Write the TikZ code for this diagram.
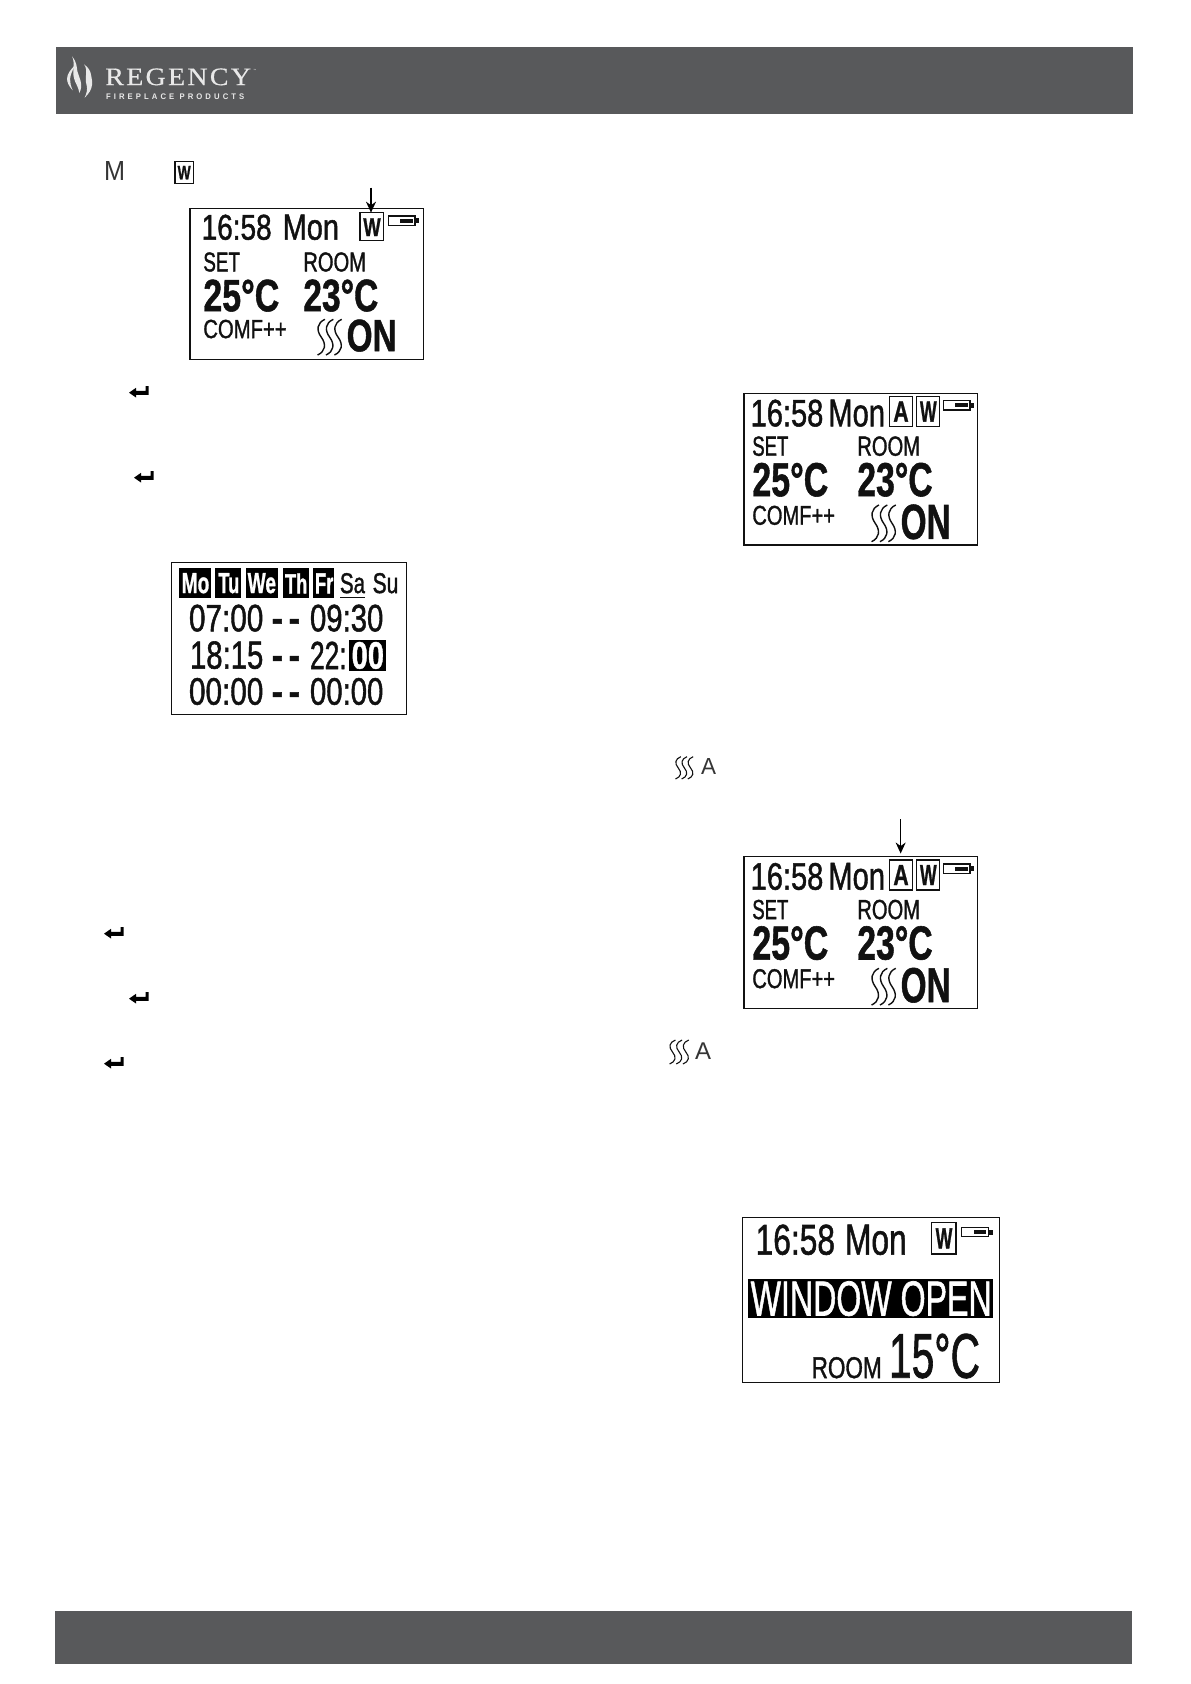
\documentclass[tikz,border=0pt]{standalone}
\usepackage{fontspec}
\usepackage{graphicx}
\usetikzlibrary{arrows.meta}
\setmainfont{Liberation Sans}
\newfontfamily\logoserif[LetterSpace=8,FakeBold=0.4]{Liberation Serif}
\newfontfamily\logosans[LetterSpace=40]{Liberation Sans}
\newfontfamily\lcdr[FakeBold=1.4,BoldFeatures={FakeBold=1.2}]{Liberation Sans}
\definecolor{band}{HTML}{58595B}
\definecolor{logolight}{HTML}{E8E8E8}
\definecolor{ink}{HTML}{111111}
\tikzset{
  txt/.style={anchor=south west,inner sep=0pt,outer sep=0pt,text=ink,font=\lcdr},
  plain/.style={font=\rmfamily,text=ink!85},
  frm/.style={draw=ink,line width=1.6pt,inner sep=0pt,outer sep=0pt,fill=white},
  blk/.style={fill=black,inner sep=0pt,outer sep=0pt},
  ptr/.style={-{Stealth[length=11pt,width=10pt]},line width=1.3pt,draw=black},
}
\newcounter{tn}
% text fitted into a box given in zoom coordinates
\newcommand{\lt}[6]{\stepcounter{tn}\pgfmathsetmacro{\ww}{(#3-#1)/3}\pgfmathsetmacro{\hh}{(#4-#2)/3}%
  \node[txt,#5] (t\arabic{tn}) at (#1,#4) {\resizebox{\ww pt}{\hh pt}{#6}};}
\newcommand{\frm}[6]{\pgfmathsetmacro{\ww}{(#4-#2)/3}\pgfmathsetmacro{\hh}{(#5-#3)/3}%
  \pgfmathsetmacro{\cx}{(#2+#4)/2}\pgfmathsetmacro{\cy}{(#3+#5)/2}%
  \node[frm,#6,minimum width=\ww pt,minimum height=\hh pt] (#1) at (\cx,\cy) {};}
% heat waves
\newcommand{\wv}[5]{\pgfmathsetmacro{\uu}{(#3-#1)/3/2.6}\pgfmathsetmacro{\vv}{(#4-#2)/3}%
  \begin{scope}[shift={(#1,#2)},x=\uu pt,y=-\vv pt]
  \foreach \o in {0,0.8,1.6}{
    \draw[line width=#5pt,draw=ink,shift={(\o,0)}] (0.85,0) .. controls (0.1,0.1) and (0,0.3) .. (0.5,0.5) .. controls (1,0.7) and (0.9,0.9) .. (0.15,1);
  }
  \end{scope}}
% battery (31 x 10 px at x,y in zoom coordinates)
\newcommand{\batt}[2]{\begin{scope}[shift={(#1,#2)}]
  \draw[line width=1.2pt,draw=ink] (0,0) rectangle (80,28);
  \fill[ink] (80,7) rectangle (93,22);
  \fill[ink] (36,8) rectangle (73,20);
  \end{scope}}
% enter key arrow
\newcommand{\enterk}[2]{\begin{scope}[shift={(#1pt,-#2pt)},x=1pt,y=-1pt]
  \fill[black] (16.5,0) -- (19.5,0) -- (19.5,8.8) -- (7,8.8) -- (7,11.5) -- (0,6.7) -- (7,1.8) -- (7,4.8) -- (16.5,4.8) -- cycle;
  \end{scope}}
\newcommand{\mainlcdA}{% no auto-mode icon
  \lt{485}{555}{695}{630}{}{16:58}
  \lt{728}{555}{897}{630}{}{Mon}
  \lt{970}{565}{1022}{618}{}{\bfseries W}
  \batt{1045}{558}
  \lt{490}{668}{600}{725}{}{SET}
  \lt{790}{668}{978}{725}{}{ROOM}
  \lt{490}{750}{718}{845}{}{\bfseries 25°C}
  \lt{790}{750}{1015}{845}{}{\bfseries 23°C}
  \lt{490}{870}{740}{925}{}{COMF++}
  \wv{828}{868}{910}{975}{1.4}
  \lt{920}{870}{1070}{965}{}{\bfseries ON}
}
\newcommand{\mainlcdB}[2]{% both icons; #1,#2 = zoom origin of frame
  \begin{scope}[shift={(#1-252,#2-40)}]
  \lt{272}{60}{490}{140}{}{16:58}
  \lt{505}{60}{675}{140}{}{Mon}
  \lt{700}{65}{746}{125}{}{\bfseries A}
  \lt{780}{65}{830}{125}{}{\bfseries W}
  \batt{850}{62}
  \lt{277}{170}{385}{228}{}{SET}
  \lt{592}{170}{780}{228}{}{ROOM}
  \lt{277}{250}{505}{350}{}{\bfseries 25°C}
  \lt{592}{250}{818}{350}{}{\bfseries 23°C}
  \lt{277}{378}{525}{435}{}{COMF++}
  \wv{630}{375}{712}{485}{1.4}
  \lt{722}{375}{872}{478}{}{\bfseries ON}
  \end{scope}
}
\begin{document}
\begin{tikzpicture}[x=1pt,y=-1pt]
\useasboundingbox (0,0) rectangle (1191,1684);
\fill[white] (0,0) rectangle (1191,1684);
% bands
\fill[band] (56,47) rectangle (1133,114);
\fill[band] (55,1611) rectangle (1132,1664);
% logo
\begin{scope}[shift={(56pt,-47pt)},x=.33333pt,y=-.33333pt]
  \fill[logolight] (60,52) .. controls (24,85) and (28,105) .. (50,130) .. controls (40,105) and (36,90) .. (60,52) -- cycle;
  \fill[logolight] (48,28) .. controls (60,50) and (44,75) .. (58,105) .. controls (64,118) and (68,125) .. (70,138) .. controls (84,112) and (68,90) .. (64,72) .. controls (62,58) and (62,45) .. (48,28) -- cycle;
  \fill[logolight] (84,52) .. controls (98,70) and (84,90) .. (92,115) .. controls (95,128) and (92,138) .. (86,152) .. controls (116,125) and (108,100) .. (106,88) .. controls (104,72) and (98,62) .. (84,52) -- cycle;
  \lt{148}{65}{585}{115}{text=logolight}{\logoserif REGENCY}
  \lt{150}{140}{565}{157}{text=logolight}{\logosans\bfseries FIREPLACE PRODUCTS}
  \node[inner sep=0pt,text=logolight,font=\rmfamily\fontsize{3}{3}\selectfont] (tm) at (597,71) {™};
\end{scope}
% top left text fragments and LCD 1
\begin{scope}[shift={(40pt,-30pt)},x=.33333pt,y=-.33333pt]
  \lt{192}{395}{255}{452}{plain}{M}
  \frm{wicon}{405}{395}{460}{460}{line width=1.2pt}
  \lt{413}{408}{452}{448}{}{\bfseries W}
  \frm{lcda}{450}{535}{1150}{988}{}
  \frm{wa}{960}{548}{1030}{632}{line width=1.1pt}
  \mainlcdA
  \coordinate (arra) at (993,473);
  \draw[ptr] (arra) -- (arra |- wa.north);
\end{scope}
\enterk{129}{386}
\enterk{134}{471}
\enterk{104}{927}
\enterk{129}{992}
\enterk{104}{1057}
% schedule LCD
\begin{scope}[shift={(90pt,-370pt)},x=.33333pt,y=-.33333pt]
  \frm{lcdt}{245}{577}{950}{1033}{}
  \node[blk,minimum width=31.7pt,minimum height=30pt] (bmo) at (314.5,640) {};
  \node[blk,minimum width=26pt,minimum height=30pt] (btu) at (414,640) {};
  \node[blk,minimum width=32pt,minimum height=30pt] (bwe) at (515,640) {};
  \node[blk,minimum width=26.7pt,minimum height=30pt] (bth) at (618,640) {};
  \node[blk,minimum width=21pt,minimum height=30pt] (bfr) at (701.5,640) {};
  \lt{275}{610}{358}{670}{text=white}{\bfseries Mo}
  \lt{385}{610}{448}{670}{text=white}{\bfseries Tu}
  \lt{473}{610}{558}{670}{text=white}{\bfseries We}
  \lt{585}{610}{652}{670}{text=white}{\bfseries Th}
  \lt{675}{610}{730}{670}{text=white}{\bfseries Fr}
  \lt{750}{610}{825}{670}{}{Sa}
  \draw[line width=1pt,draw=ink] (750,681) -- (825,681);
  \lt{848}{610}{925}{670}{}{Su}
  \lt{297}{705}{520}{785}{}{07:00}
  \lt{545}{705}{630}{785}{}{\bfseries\vphantom{0}-\,-}
  \lt{660}{705}{880}{785}{}{09:30}
  \lt{300}{815}{520}{897}{}{18:15}
  \lt{545}{815}{630}{897}{}{\bfseries\vphantom{0}-\,-}
  \lt{660}{815}{770}{897}{}{22:}
  \node[blk,minimum width=36.7pt,minimum height=31pt] (bsel) at (833,856.5) {};
  \lt{785}{817}{882}{897}{text=white}{\bfseries 00}
  \lt{297}{925}{520}{1005}{}{00:00}
  \lt{545}{925}{630}{1005}{}{\bfseries\vphantom{0}-\,-}
  \lt{660}{925}{880}{1005}{}{00:00}
\end{scope}
% right LCD 2
\begin{scope}[shift={(660pt,-380pt)},x=.33333pt,y=-.33333pt]
  \frm{lcdb}{252}{40}{952}{495}{}
  \frm{ab}{688}{50}{757}{140}{line width=1.1pt}
  \frm{wb}{770}{50}{838}{140}{line width=1.1pt}
  \mainlcdB{252}{40}
\end{scope}
% wave + A labels and LCD 3
\begin{scope}[shift={(650pt,-740pt)},x=.33333pt,y=-.33333pt]
  \wv{73}{50}{133}{117}{1.1}
  \lt{153}{55}{198}{103}{plain}{A}
  \frm{lcdc}{282}{350}{982}{805}{}
  \frm{ac}{718}{360}{787}{450}{line width=1.1pt}
  \frm{wc}{800}{360}{868}{450}{line width=1.1pt}
  \mainlcdB{282}{350}
  \coordinate (arrc) at (752,238);
  \draw[ptr] (arrc) -- ([yshift=6.5pt]arrc |- ac.north);
  \wv{55}{900}{120}{972}{1.1}
  \lt{135}{908}{183}{958}{plain}{A}
\end{scope}
% window open LCD
\begin{scope}[shift={(720pt,-1200pt)},x=.33333pt,y=-.33333pt]
  \frm{lcdw}{67}{52}{838}{548}{}
  \lt{107}{75}{345}{165}{}{16:58}
  \lt{375}{75}{560}{165}{}{Mon}
  \frm{wd}{635}{68}{708}{162}{line width=1.1pt}
  \lt{647}{85}{697}{145}{}{\bfseries W}
  \batt{725}{82}
  \node[blk,minimum width=245pt,minimum height=39pt] (bwin) at (452.5,296.5) {};
  \lt{92}{245}{815}{348}{text=white}{WINDOW OPEN}
  \lt{275}{472}{485}{535}{}{ROOM}
  \lt{507}{403}{780}{535}{}{15°C}
\end{scope}
\end{tikzpicture}
\end{document}
